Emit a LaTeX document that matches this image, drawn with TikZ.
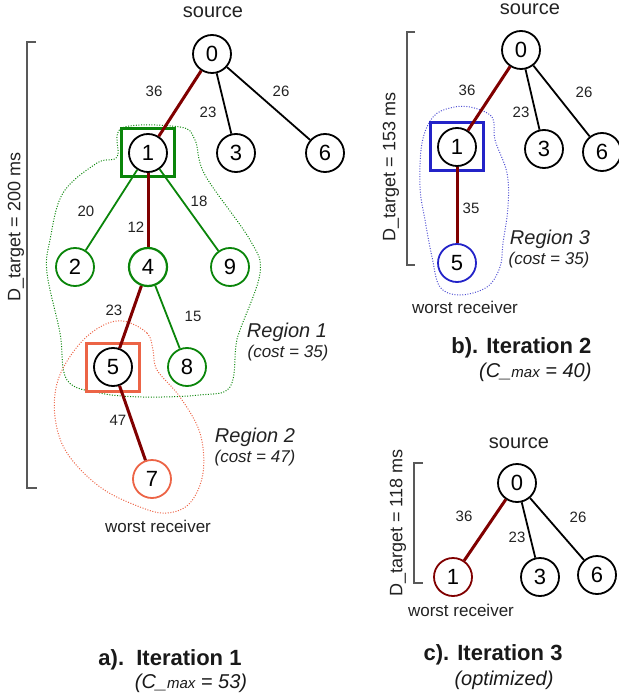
\documentclass[tikz,border=0pt]{standalone}
\usepackage{fontspec}
\setmainfont{Liberation Sans}
\usetikzlibrary{calc}
\definecolor{hotred}{HTML}{800000}
\definecolor{regone}{HTML}{0A850A}
\definecolor{regtwo}{HTML}{EC6446}
\definecolor{regthree}{HTML}{2323C8}
\definecolor{lblgray}{HTML}{222222}
\tikzset{
  mnode/.style={circle,draw=black,line width=1.8pt,minimum size=38pt,
    inner sep=0pt,font=\fontsize{22}{24}\selectfont},
  gnode/.style={mnode,draw=regone},
  tedge/.style={line width=1.8pt,black},
  gtedge/.style={line width=1.8pt,regone},
  hotedge/.style={line width=3pt,hotred},
  elbl/.style={font=\fontsize{15}{17}\selectfont,text=lblgray,inner sep=1pt},
  srclbl/.style={font=\fontsize{20}{22}\selectfont,text=lblgray},
  wrlbl/.style={font=\fontsize{17}{19}\selectfont,text=lblgray},
  selbox/.style={draw,line width=3pt,minimum width=53pt,minimum height=48pt,
    inner sep=0pt},
  regionline/.style={line width=1pt,dash pattern=on 1pt off 1.6pt},
  reglbl/.style={font=\itshape\fontsize{20}{22}\selectfont,text=lblgray},
  costlbl/.style={font=\itshape\fontsize{17}{19}\selectfont,text=lblgray},
  dlbl/.style={font=\fontsize{18}{20}\selectfont,text=lblgray,rotate=90},
  bracket/.style={line width=1.4pt,black!65},
  capt/.style={font=\bfseries\fontsize{22}{24}\selectfont,text=black!90},
  subcapt/.style={font=\itshape\fontsize{20}{22}\selectfont,text=black!90},
}
\newcommand{\cmaxsub}{{\fontsize{15}{17}\selectfont max}}

\begin{document}
\begin{tikzpicture}[x=1pt,y=-1pt]
  \useasboundingbox (0,0) rectangle (618,700);

  % a). iteration 1
  \draw[regionline,regone] plot[smooth cycle,tension=0.6] coordinates {
    (122,128) (180,127) (195,140) (205,175) (250,240) (260,273) (240,330)
    (236,345) (230,387) (200,395) (143,397) (100,393) (67,380) (60,333)
    (47,273) (50,240) (63,193) (97,163) (117,157)};
  \draw[regionline,regtwo] plot[smooth cycle,tension=0.6] coordinates {
    (123,321) (147,333) (153,350) (157,370) (180,397) (200,433) (203,473)
    (190,503) (167,513) (140,507) (100,487) (67,453) (55,417) (58,380)
    (77,347) (100,327)};

  \node[mnode] (a0) at (212,54) {0};
  \node[mnode] (a1) at (148,153) {1};
  \node[mnode] (a3) at (236,153) {3};
  \node[mnode] (a6) at (325,153) {6};
  \node[gnode] (a2) at (75,267) {2};
  \node[gnode,line width=2.2pt] (a4) at (148,267) {4};
  \node[gnode] (a9) at (230,267) {9};
  \node[mnode] (a5) at (113,367) {5};
  \node[gnode] (a8) at (187,367) {8};
  \node[mnode,draw=regtwo] (a7) at (152,479) {7};
  \node[selbox,draw=regone] (abox1) at (a1) {};
  \node[selbox,draw=regtwo] (abox5) at (a5) {};

  \draw[hotedge] (a0) -- (a1);
  \draw[tedge] (a0) -- (a3);
  \draw[tedge] (a0) -- (a6);
  \draw[gtedge] (a1) -- (a2);
  \draw[hotedge] (a1) -- (a4);
  \draw[gtedge] (a1) -- (a9);
  \draw[hotedge] (a4) -- (a5);
  \draw[gtedge] (a4) -- (a8);
  \draw[hotedge] (a5) -- (a7);

  \foreach \nm/\x/\y/\w in {a01/154/91/36, a03/208/112/23, a06/281/91/26,
      a12/86/211/20, a14/136/227/12, a19/199/201/18, a45/114/310/23,
      a48/193/316/15, a57/118/420/47}
    \node[elbl] (l\nm) at (\x,\y) {\w};

  \node[srclbl] (asrc) at (213,12) {source};
  \node[wrlbl] (awr) at (158,526) {worst receiver};
  \node[reglbl] (areg1) at (287,332) {Region 1};
  \node[costlbl] (acost1) at (288,353) {(cost = 35)};
  \node[reglbl] (areg2) at (255,437) {Region 2};
  \node[costlbl] (acost2) at (255,458) {(cost = 47)};

  \coordinate (abt) at (27,42);
  \coordinate (abb) at (27,488);
  \draw[bracket] ($(abt)+(9,0)$) -- (abt) -- (abb) -- ($(abb)+(10,0)$);
  \node[dlbl] (ad) at (16,227) {D\_target = 200 ms};

  \node[capt] (acap) at (170,660) {a).\ \ Iteration 1};
  \node[subcapt] (asub) at (191,683) {(C\_\cmaxsub{} = 53)};

  % b). iteration 2
  \draw[regionline,regthree!80] plot[smooth cycle,tension=0.6] coordinates {
    (470,107) (492,117) (495,140) (507,173) (508,207) (503,243) (500,267)
    (487,287) (460,295) (440,287) (432,257) (425,220) (420,187) (422,143)
    (433,117) (450,108)};

  \node[mnode] (b0) at (521,50) {0};
  \node[mnode] (b1) at (457,147) {1};
  \node[mnode] (b3) at (544,149) {3};
  \node[mnode] (b6) at (602,152) {6};
  \node[mnode,draw=regthree] (b5) at (457,263) {5};
  \node[selbox,draw=regthree] (bbox1) at (b1) {};

  \draw[hotedge] (b0) -- (b1);
  \draw[tedge] (b0) -- (b3);
  \draw[tedge] (b0) -- (b6);
  \draw[hotedge] (b1) -- (b5);

  \foreach \nm/\x/\y/\w in {b01/467/90/36, b03/521/112/23, b06/584/92/26,
      b15/471/208/35}
    \node[elbl] (l\nm) at (\x,\y) {\w};

  \node[srclbl] (bsrc) at (530,9) {source};
  \node[wrlbl] (bwr) at (465,307) {worst receiver};
  \node[reglbl] (breg3) at (550,239) {Region 3};
  \node[costlbl] (bcost3) at (549,260) {(cost = 35)};

  \coordinate (bbt) at (407,32);
  \coordinate (bbb) at (407,265);
  \draw[bracket] ($(bbt)+(8,0)$) -- (bbt) -- (bbb) -- ($(bbb)+(8,0)$);
  \node[dlbl] (bd) at (391,167) {D\_target = 153 ms};

  \node[capt,anchor=east] (bcap) at (595,348) {b). Iteration 2};
  \node[subcapt,anchor=east] (bsub) at (595,372) {(C\_\cmaxsub{} = 40)};

  % c). iteration 3
  \node[mnode] (c0) at (517,483) {0};
  \node[mnode,draw=hotred] (c1) at (453,577) {1};
  \node[mnode] (c3) at (540,577) {3};
  \node[mnode] (c6) at (597,575) {6};

  \draw[hotedge] (c0) -- (c1);
  \draw[tedge] (c0) -- (c3);
  \draw[tedge] (c0) -- (c6);

  \foreach \nm/\x/\y/\w in {c01/464/516/36, c03/517/537/23, c06/578/517/26}
    \node[elbl] (l\nm) at (\x,\y) {\w};

  \node[srclbl] (csrc) at (519,443) {source};
  \node[wrlbl] (cwr) at (461,610) {worst receiver};

  \coordinate (cbt) at (414,463);
  \coordinate (cbb) at (414,583);
  \draw[bracket] ($(cbt)+(9,0)$) -- (cbt) -- (cbb) -- ($(cbb)+(9,0)$);
  \node[dlbl] (cd) at (398,523) {D\_target = 118 ms};

  \node[capt] (ccap) at (493,655) {c). Iteration 3};
  \node[subcapt] (csub) at (504,680) {(optimized)};
\end{tikzpicture}
\end{document}
